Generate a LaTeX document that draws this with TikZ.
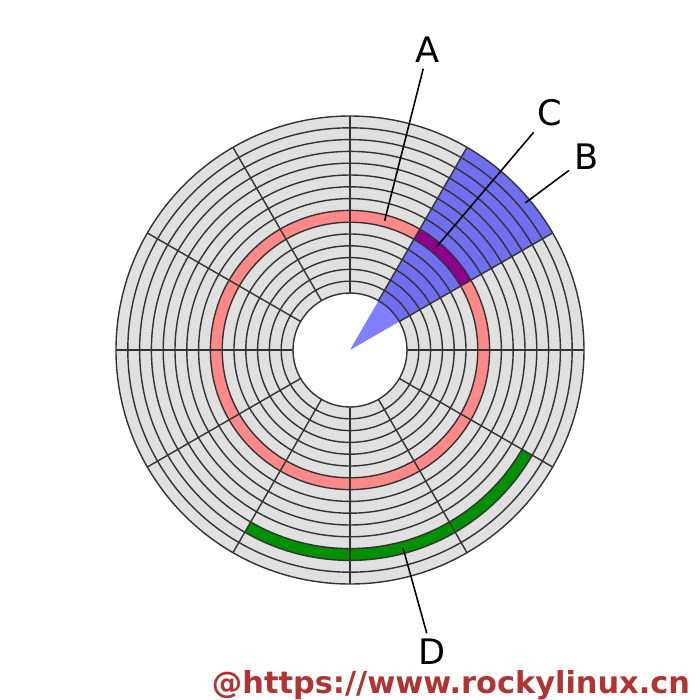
\documentclass[tikz,border=0pt]{standalone}
\usepackage{graphicx}
\usepackage{fontspec}
\setmainfont{DejaVu Sans}
\usetikzlibrary{calc}

\definecolor{diskgray}{RGB}{224,224,224}
\definecolor{trackred}{RGB}{255,136,136}
\definecolor{clustergreen}{RGB}{0,145,0}
\definecolor{sectorblue}{RGB}{0,0,255}
\definecolor{crosspurple}{RGB}{140,0,140}
\definecolor{wmred}{RGB}{176,52,52}

\begin{document}
\begin{tikzpicture}[
  lbl/.style ={font=\fontsize{10}{12}\selectfont, inner sep=1.5pt},
  ring/.style={draw=black!80, line width=0.4pt},
  ptr/.style ={draw=black, line width=0.45pt},
]
\useasboundingbox (0,0) rectangle (7,7);
\coordinate (c) at (3.5,3.5);

% -------- platter ----------------------------------------------------------
\fill[diskgray] (c) circle (2.34);
\fill[white]    (c) circle (0.57);

% track (full ring)
\fill[trackred, even odd rule] (c) circle (1.396) (c) circle (1.278);

% cluster (part of an outer track)
\fill[clustergreen] ($(c)+(240:2.104)$) arc (240:330:2.104)
      -- ($(c)+(330:1.986)$) arc (330:240:1.986) -- cycle;

% geometric sector
\fill[sectorblue, opacity=0.5] (c) -- ($(c)+(30:2.34)$) arc (30:60:2.34) -- cycle;

% track sector (track inside the sector)
\fill[crosspurple] ($(c)+(30:1.396)$) arc (30:60:1.396)
      -- ($(c)+(60:1.278)$) arc (60:30:1.278) -- cycle;

% tracks and sector borders
\foreach \k in {0,...,15}
  \draw[ring] (c) circle ({0.57+0.118*\k});
\foreach \a in {0,30,...,330}
  \draw[ring] ($(c)+(\a:0.57)$) -- ($(c)+(\a:2.34)$);

% -------- labels ----------------------------------------------------------
\coordinate (a-pt) at ($(c)+(75:1.337)$);
\coordinate (b-pt) at ($(c)+(40:2.29)$);
\coordinate (c-pt) at ($(c)+(50:1.337)$);
\coordinate (d-pt) at ($(c)+(285:2.045)$);

\node[lbl] (A) at (4.28,6.50) {A};
\node[lbl] (B) at (5.87,5.43) {B};
\node[lbl] (C) at (5.50,5.87) {C};
\node[lbl] (D) at (4.32,0.48) {D};

\draw[ptr] (A) -- (a-pt);
\draw[ptr] (B) -- (b-pt);
\draw[ptr] (C) -- (c-pt);
\draw[ptr] (D) -- (d-pt);

% watermark
\node[text=wmred, anchor=base, inner sep=0pt] (wm) at (4.51,0.07)
     {\resizebox{4.78cm}{!}{\bfseries @https://www.rockylinux.cn}};

\end{tikzpicture}
\end{document}
